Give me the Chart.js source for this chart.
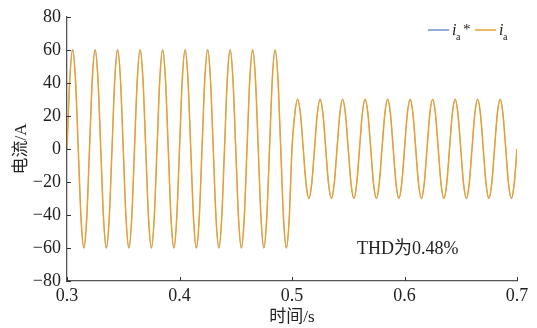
<!DOCTYPE html>
<html>
<head>
<meta charset="utf-8">
<script src="https://cdn.jsdelivr.net/npm/chart.js@4/dist/chart.umd.min.js"></script>
<style>
  html, body { margin: 0; padding: 0; background: #fff; }
  #wrap { width: 537px; height: 328px; }
</style>
</head>
<body>
<div id="wrap"><canvas id="currentChart" width="537" height="328"></canvas></div>
<script>
// time samples (s) at eighth periods
const time = [
  0.3, 0.3025, 0.305, 0.3075, 0.31, 0.3125, 0.315, 0.3175,
  0.32, 0.3225, 0.325, 0.3275, 0.33, 0.3325, 0.335, 0.3375,
  0.34, 0.3425, 0.345, 0.3475, 0.35, 0.3525, 0.355, 0.3575,
  0.36, 0.3625, 0.365, 0.3675, 0.37, 0.3725, 0.375, 0.3775,
  0.38, 0.3825, 0.385, 0.3875, 0.39, 0.3925, 0.395, 0.3975,
  0.4, 0.4025, 0.405, 0.4075, 0.41, 0.4125, 0.415, 0.4175,
  0.42, 0.4225, 0.425, 0.4275, 0.43, 0.4325, 0.435, 0.4375,
  0.44, 0.4425, 0.445, 0.4475, 0.45, 0.4525, 0.455, 0.4575,
  0.46, 0.4625, 0.465, 0.4675, 0.47, 0.4725, 0.475, 0.4775,
  0.48, 0.4825, 0.485, 0.4875, 0.49, 0.4925, 0.495, 0.4975,
  0.5, 0.5025, 0.505, 0.5075, 0.51, 0.5125, 0.515, 0.5175,
  0.52, 0.5225, 0.525, 0.5275, 0.53, 0.5325, 0.535, 0.5375,
  0.54, 0.5425, 0.545, 0.5475, 0.55, 0.5525, 0.555, 0.5575,
  0.56, 0.5625, 0.565, 0.5675, 0.57, 0.5725, 0.575, 0.5775,
  0.58, 0.5825, 0.585, 0.5875, 0.59, 0.5925, 0.595, 0.5975,
  0.6, 0.6025, 0.605, 0.6075, 0.61, 0.6125, 0.615, 0.6175,
  0.62, 0.6225, 0.625, 0.6275, 0.63, 0.6325, 0.635, 0.6375,
  0.64, 0.6425, 0.645, 0.6475, 0.65, 0.6525, 0.655, 0.6575,
  0.66, 0.6625, 0.665, 0.6675, 0.67, 0.6725, 0.675, 0.6775,
  0.68, 0.6825, 0.685, 0.6875, 0.69, 0.6925, 0.695, 0.6975,
  0.7
];

// reference current ia* (A)
const iaRef = [
  0, 42.4, 60, 42.4, 0, -42.4, -60, -42.4,
  0, 42.4, 60, 42.4, 0, -42.4, -60, -42.4,
  0, 42.4, 60, 42.4, 0, -42.4, -60, -42.4,
  0, 42.4, 60, 42.4, 0, -42.4, -60, -42.4,
  0, 42.4, 60, 42.4, 0, -42.4, -60, -42.4,
  0, 42.4, 60, 42.4, 0, -42.4, -60, -42.4,
  0, 42.4, 60, 42.4, 0, -42.4, -60, -42.4,
  0, 42.4, 60, 42.4, 0, -42.4, -60, -42.4,
  0, 42.4, 60, 42.4, 0, -42.4, -60, -42.4,
  0, 42.4, 60, 42.4, 0, -42.4, -60, -42.4,
  0, 21.2, 30, 21.2, 0, -21.2, -30, -21.2,
  0, 21.2, 30, 21.2, 0, -21.2, -30, -21.2,
  0, 21.2, 30, 21.2, 0, -21.2, -30, -21.2,
  0, 21.2, 30, 21.2, 0, -21.2, -30, -21.2,
  0, 21.2, 30, 21.2, 0, -21.2, -30, -21.2,
  0, 21.2, 30, 21.2, 0, -21.2, -30, -21.2,
  0, 21.2, 30, 21.2, 0, -21.2, -30, -21.2,
  0, 21.2, 30, 21.2, 0, -21.2, -30, -21.2,
  0, 21.2, 30, 21.2, 0, -21.2, -30, -21.2,
  0, 21.2, 30, 21.2, 0, -21.2, -30, -21.2,
  0
];

// measured current ia (A), sits on top of the reference
const ia = [
  0, 42.4, 60, 42.4, 0, -42.4, -60, -42.4,
  0, 42.4, 60, 42.4, 0, -42.4, -60, -42.4,
  0, 42.4, 60, 42.4, 0, -42.4, -60, -42.4,
  0, 42.4, 60, 42.4, 0, -42.4, -60, -42.4,
  0, 42.4, 60, 42.4, 0, -42.4, -60, -42.4,
  0, 42.4, 60, 42.4, 0, -42.4, -60, -42.4,
  0, 42.4, 60, 42.4, 0, -42.4, -60, -42.4,
  0, 42.4, 60, 42.4, 0, -42.4, -60, -42.4,
  0, 42.4, 60, 42.4, 0, -42.4, -60, -42.4,
  0, 42.4, 60, 42.4, 0, -42.4, -60, -42.4,
  0, 21.2, 30, 21.2, 0, -21.2, -30, -21.2,
  0, 21.2, 30, 21.2, 0, -21.2, -30, -21.2,
  0, 21.2, 30, 21.2, 0, -21.2, -30, -21.2,
  0, 21.2, 30, 21.2, 0, -21.2, -30, -21.2,
  0, 21.2, 30, 21.2, 0, -21.2, -30, -21.2,
  0, 21.2, 30, 21.2, 0, -21.2, -30, -21.2,
  0, 21.2, 30, 21.2, 0, -21.2, -30, -21.2,
  0, 21.2, 30, 21.2, 0, -21.2, -30, -21.2,
  0, 21.2, 30, 21.2, 0, -21.2, -30, -21.2,
  0, 21.2, 30, 21.2, 0, -21.2, -30, -21.2,
  0
];

const xTicks = [0.3, 0.4, 0.5, 0.6, 0.7];
const yTicks = [-80, -60, -40, -20, 0, 20, 40, 60, 80];
const thdText = 'THD为0.48%';

const blue = '#6F8FCB';
const orange = '#E8A030';
const serif = '"Liberation Serif", "Times New Roman", "Noto Sans CJK SC", serif';

Chart.defaults.font.family = serif;
Chart.defaults.font.size = 18;
Chart.defaults.color = '#222';

function points(ys) {
    return time.map((t, i) => ({ x: t, y: ys[i] }));
}

// inward tick marks, legend with subscripts and THD note
const decorPlugin = {
    id: 'decor',
    afterDraw(chart) {
        const ctx = chart.ctx;
        const area = chart.chartArea;
        const xs = chart.scales.x;
        const ys = chart.scales.y;
        ctx.save();
        ctx.strokeStyle = '#333';
        ctx.lineWidth = 1;
        xTicks.forEach(v => {
            const px = Math.round(xs.getPixelForValue(v)) + 0.5;
            ctx.beginPath();
            ctx.moveTo(px, area.bottom);
            ctx.lineTo(px, area.bottom - 4);
            ctx.stroke();
        });
        yTicks.forEach(v => {
            const py = Math.round(ys.getPixelForValue(v)) + 0.5;
            ctx.beginPath();
            ctx.moveTo(area.left, py);
            ctx.lineTo(area.left + 4, py);
            ctx.stroke();
        });

        // legend
        const ly = 30;
        const entries = [
            { color: blue, x0: 428, star: true },
            { color: orange, x0: 475, star: false }
        ];
        entries.forEach(e => {
            ctx.strokeStyle = e.color;
            ctx.lineWidth = 1.5;
            ctx.beginPath();
            ctx.moveTo(e.x0, ly);
            ctx.lineTo(e.x0 + 21, ly);
            ctx.stroke();
            ctx.fillStyle = '#222';
            ctx.textBaseline = 'alphabetic';
            ctx.textAlign = 'left';
            ctx.font = 'italic 16px ' + serif;
            ctx.fillText('i', e.x0 + 24, ly + 5);
            ctx.font = '10px ' + serif;
            ctx.fillText('a', e.x0 + 28, ly + 10);
            if (e.star) {
                ctx.font = '15px ' + serif;
                ctx.fillText('*', e.x0 + 35, ly + 4);
            }
        });

        ctx.fillStyle = '#222';
        ctx.font = '18px ' + serif;
        ctx.textAlign = 'left';
        ctx.textBaseline = 'middle';
        ctx.fillText(thdText, 357, 249);
        ctx.restore();
    }
};

new Chart(document.getElementById('currentChart'), {
    type: 'line',
    data: {
        datasets: [
            { label: 'ia*', data: points(iaRef), borderColor: blue, borderWidth: 0.6, order: 2 },
            { label: 'ia', data: points(ia), borderColor: orange, borderWidth: 1.5, order: 1 }
        ]
    },
    options: {
        responsive: false,
        animation: false,
        layout: { padding: { left: 0, right: 20, top: 14, bottom: 0 } },
        elements: {
            point: { radius: 0 },
            line: { cubicInterpolationMode: 'monotone', fill: false }
        },
        plugins: { legend: { display: false }, tooltip: { enabled: false } },
        scales: {
            x: {
                type: 'linear',
                min: 0.3,
                max: 0.7,
                afterFit(scale) { scale.height = 47; },
                afterBuildTicks(scale) { scale.ticks = xTicks.map(v => ({ value: v })); },
                grid: { display: false, drawTicks: false },
                border: { display: true, color: '#555', width: 1.3 },
                ticks: {
                    padding: 4,
                    color: '#222',
                    font: { family: serif, size: 18 },
                    callback: v => v.toFixed(1)
                },
                title: {
                    display: true,
                    text: '时间/s',
                    color: '#222',
                    font: { family: serif, size: 17 },
                    padding: { top: 0, bottom: 0 }
                }
            },
            y: {
                min: -80,
                max: 80,
                afterFit(scale) { scale.width = 67; },
                afterBuildTicks(scale) { scale.ticks = yTicks.map(v => ({ value: v })); },
                grid: { display: false, drawTicks: false },
                border: { display: true, color: '#555', width: 1.3 },
                ticks: {
                    padding: 6,
                    color: '#222',
                    font: { family: serif, size: 18 },
                    callback: v => (v < 0 ? '\u2212' + Math.abs(v) : String(v))
                },
                title: {
                    display: true,
                    text: '电流/A',
                    color: '#222',
                    font: { family: serif, size: 17 },
                    padding: { top: 11, bottom: 4 }
                }
            }
        }
    },
    plugins: [decorPlugin]
});
</script>
</body>
</html>
